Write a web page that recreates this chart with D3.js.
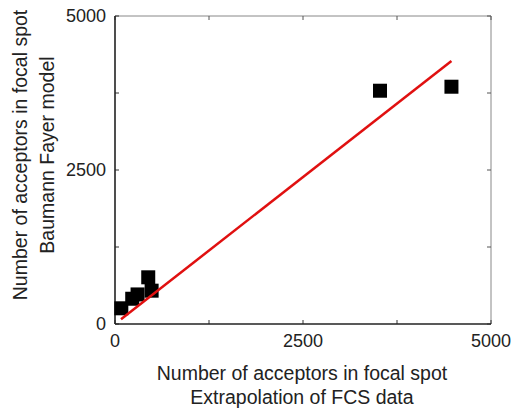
<!DOCTYPE html>
<html><head><meta charset="utf-8">
<script src="https://cdn.jsdelivr.net/npm/d3@7"></script>
<style>body{margin:0;background:#fff}svg{display:block}text{font-family:"Liberation Sans",Arial,sans-serif}</style>
</head><body><svg id="c" width="516" height="413"></svg>
<script>
const xValues = [84, 229, 300, 442, 487, 3524, 4474];
const yValues = [255, 410, 480, 758, 541, 3787, 3852];
const fitX = [80, 4474];
const fitY = [76, 4270];
const tickValues = [0, 2500, 5000];
const minorTicks = [1250, 3750];
const xTitle = ["Number of acceptors in focal spot", "Extrapolation of FCS data"];
const yTitle = ["Number of acceptors in focal spot", "Baumann Fayer model"];

const svg = d3.select("#c");
const L = 115, R = 491, T = 16, B = 324;
const x = d3.scaleLinear().domain([0, 5000]).range([L, R]);
const y = d3.scaleLinear().domain([0, 5000]).range([B, T]);

svg.append("line").attr("x1", L).attr("x2", R).attr("y1", T).attr("y2", T).attr("stroke", "#888").attr("stroke-width", 1);
svg.append("line").attr("x1", R).attr("x2", R).attr("y1", T).attr("y2", B).attr("stroke", "#888").attr("stroke-width", 1);

const allTicks = tickValues.concat(minorTicks);
allTicks.forEach(v => {
  svg.append("line").attr("x1", x(v)).attr("x2", x(v)).attr("y1", B).attr("y2", B - 4).attr("stroke", "#333");
  svg.append("line").attr("x1", x(v)).attr("x2", x(v)).attr("y1", T).attr("y2", T + 4).attr("stroke", "#555");
  svg.append("line").attr("x1", L).attr("x2", L + 4).attr("y1", y(v)).attr("y2", y(v)).attr("stroke", "#333");
  svg.append("line").attr("x1", R).attr("x2", R - 4).attr("y1", y(v)).attr("y2", y(v)).attr("stroke", "#555");
});

svg.append("line").attr("x1", L).attr("x2", R).attr("y1", B).attr("y2", B).attr("stroke", "#222").attr("stroke-width", 1.6);
svg.append("line").attr("x1", L).attr("x2", L).attr("y1", T).attr("y2", B).attr("stroke", "#222").attr("stroke-width", 1.6);

tickValues.forEach(v => {
  svg.append("text").attr("x", x(v)).attr("y", B + 23).attr("text-anchor", "middle").attr("font-size", 18).attr("fill", "#222").text(v);
  svg.append("text").attr("x", L - 9).attr("y", y(v) + 6).attr("text-anchor", "end").attr("font-size", 18).attr("fill", "#222").text(v);
});

xTitle.forEach((t, i) => {
  svg.append("text").attr("x", 302).attr("y", 380 + i * 24).attr("text-anchor", "middle").attr("font-size", 19.5).attr("fill", "#222").text(t);
});
yTitle.forEach((t, i) => {
  svg.append("text").attr("transform", `translate(${27 + i * 27},155) rotate(-90)`).attr("text-anchor", "middle").attr("font-size", 19.5).attr("fill", "#222").text(t);
});

const pts = xValues.map((v, i) => [v, yValues[i]]);
svg.selectAll("rect.p").data(pts).enter().append("rect").attr("class", "p")
  .attr("x", d => x(d[0]) - 7).attr("y", d => y(d[1]) - 7).attr("width", 14).attr("height", 14).attr("fill", "#000");

svg.append("line").attr("x1", x(fitX[0])).attr("y1", y(fitY[0])).attr("x2", x(fitX[1])).attr("y2", y(fitY[1]))
  .attr("stroke", "#e01010").attr("stroke-width", 2.5);
</script></body></html>
